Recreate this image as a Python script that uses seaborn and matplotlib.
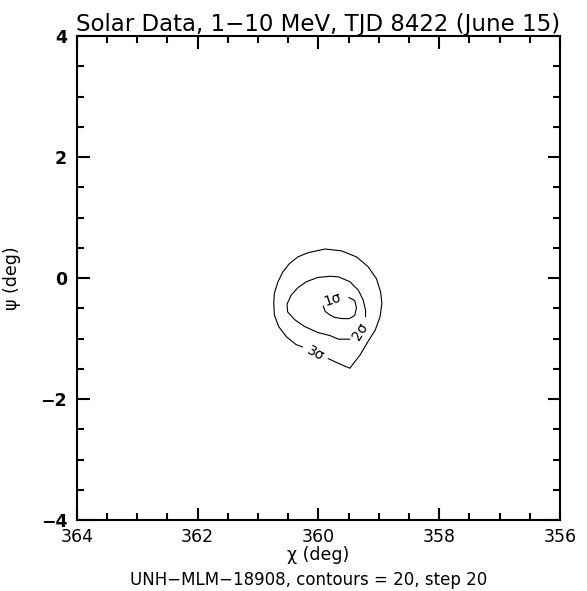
import matplotlib
matplotlib.use("Agg")
import matplotlib.pyplot as plt
import seaborn as sns
import pandas as pd
from matplotlib.ticker import MultipleLocator

# ---- data (chi, psi in degrees) ----
chi_3sigma = [359.84, 359.67, 359.48, 359.31, 359.18, 359.06, 358.98, 358.95, 358.97,
              359.04, 359.18, 359.37, 359.62, 359.89, 360.17, 360.34, 360.48, 360.59,
              360.67, 360.73, 360.74, 360.73, 360.66, 360.53, 360.37, 360.26]
psi_3sigma = [-1.33, -1.41, -1.49, -1.27, -1.05, -0.86, -0.64, -0.42, -0.23,
              -0.01, 0.19, 0.35, 0.45, 0.48, 0.42, 0.35, 0.24, 0.10,
              -0.06, -0.25, -0.42, -0.61, -0.80, -0.97, -1.10, -1.14]

chi_2sigma = [359.22, 359.22, 359.26, 359.34, 359.48, 359.67, 359.81, 360.01, 360.20,
              360.34, 360.45, 360.52, 360.51, 360.39, 360.23, 360.01, 359.81, 359.67,
              359.48]
psi_2sigma = [-0.64, -0.53, -0.36, -0.20, -0.06, 0.02, 0.03, 0.01, -0.06,
              -0.16, -0.28, -0.43, -0.56, -0.69, -0.80, -0.90, -0.95, -1.01,
              -1.01]

chi_1sigma = [359.92, 359.89, 359.81, 359.73, 359.61, 359.49, 359.40, 359.37, 359.40, 359.50]
psi_1sigma = [-0.46, -0.55, -0.61, -0.65, -0.67, -0.67, -0.62, -0.49, -0.37, -0.32]

contour_labels = ["1σ", "2σ", "3σ"]
label_chi = [359.76, 359.30, 360.04]
label_psi = [-0.36, -0.88, -1.24]
label_rot = [18, 58, -28]

title = "Solar Data, 1\u221210 MeV, TJD 8422 (June 15)"
footer = "UNH\u2212MLM\u221218908, contours = 20, step 20"
x_limits = [364, 356]
y_limits = [-4, 4]
x_major = [364, 362, 360, 358, 356]
y_major = [-4, -2, 0, 2, 4]

sns.set_style("ticks")
plt.rcParams['font.family'] = ['DejaVu Sans']
plt.rcParams['axes.unicode_minus'] = True
plt.rcParams['text.color'] = 'black'
plt.rcParams['axes.labelcolor'] = 'black'
plt.rcParams['xtick.color'] = 'black'
plt.rcParams['ytick.color'] = 'black'

fig = plt.figure(figsize=(5.87, 5.91), dpi=100)
ax = fig.add_axes([0.131, 0.120, 0.823, 0.819])

for cx, cy in [(chi_3sigma, psi_3sigma), (chi_2sigma, psi_2sigma), (chi_1sigma, psi_1sigma)]:
    df = pd.DataFrame({"chi": cx, "psi": cy})
    sns.lineplot(data=df, x="chi", y="psi", sort=False, estimator=None,
                 color="black", linewidth=0.8, ax=ax)

for lab, lx, ly, rot in zip(contour_labels, label_chi, label_psi, label_rot):
    ax.text(lx, ly, lab, fontsize=10, rotation=rot, ha="center", va="center",
            color="black")

ax.set_xlim(x_limits)
ax.set_ylim(y_limits)
ax.set_xticks(x_major)
ax.set_yticks(y_major)
ax.set_xticklabels([str(v) for v in x_major])
ax.set_yticklabels([str(v).replace("-", "\u2212") for v in y_major], fontweight="bold")
ax.xaxis.set_minor_locator(MultipleLocator(0.5))
ax.yaxis.set_minor_locator(MultipleLocator(0.5))
ax.tick_params(which="both", direction="in", top=True, right=True, color="black",
               width=1.5, labelcolor="black")
ax.tick_params(which="major", length=9, labelsize=12.5, pad=7)
ax.tick_params(which="minor", length=5)
ax.tick_params(axis="x", which="major", pad=6)
for sp in ax.spines.values():
    sp.set_linewidth(1.5)
    sp.set_color("black")

ax.set_xlabel("χ (deg)", fontsize=12.5, labelpad=0, color="black")
ax.set_ylabel("ψ (deg)", fontsize=12.5, labelpad=14, color="black")
ax.set_title(title, fontsize=16.5, pad=3, color="black")
fig.text(0.525, 0.0186, footer, fontsize=12, ha="center", va="center", color="black")

fig.savefig("out.png", dpi=100, facecolor="white")
